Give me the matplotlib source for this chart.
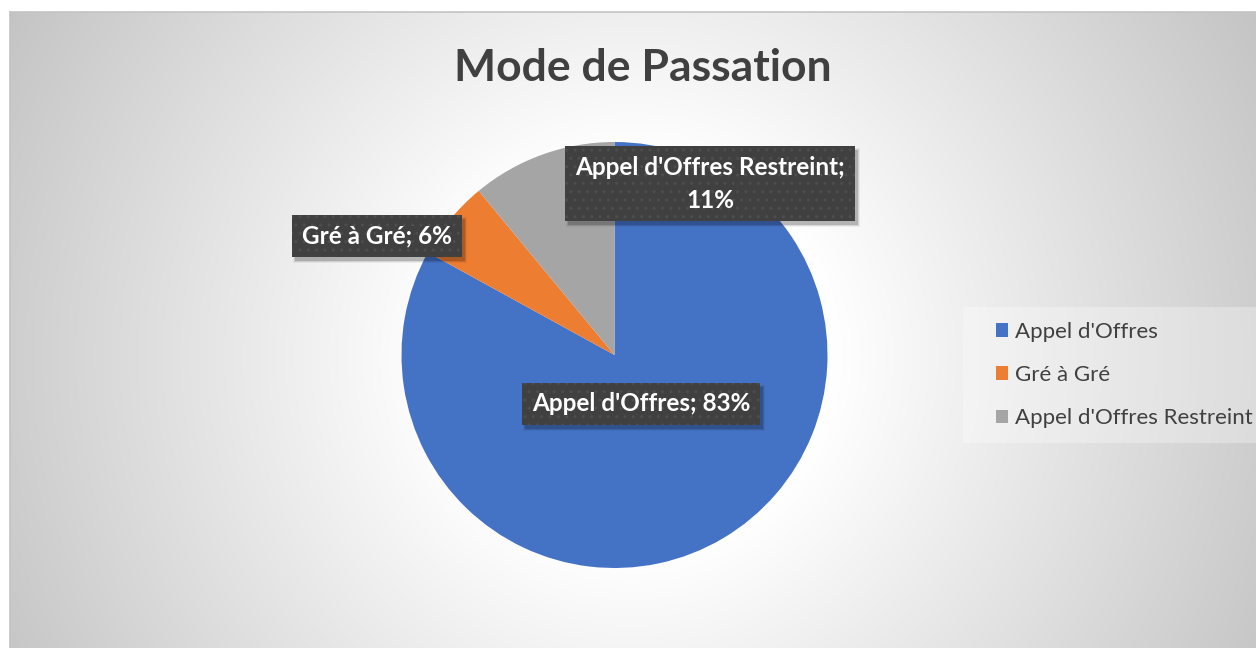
import matplotlib.pyplot as plt
from matplotlib.patches import Patch, Rectangle
from matplotlib.transforms import IdentityTransform
import numpy as np

plt.rcParams['font.family'] = ['Lato', 'DejaVu Sans']
plt.rcParams['hatch.linewidth'] = 1.0

# data
categories = ["Appel d'Offres", "Gré à Gré", "Appel d'Offres Restreint"]
shares = [83, 6, 11]
colors = ['#4472C4', '#ED7D31', '#A5A5A5']

W, H = 1256, 648
fig = plt.figure(figsize=(W / 100, H / 100), dpi=100)

# background: white margin + radial grey gradient chart area
bg = fig.add_axes([0, 0, 1, 1])
yy, xx = np.mgrid[0:H, 0:W]
d = np.hypot(xx - 633, yy - 356)
g = np.clip(255 - 0.115 * (d - 200), 196, 255) / 255.0
g[(xx < 10) | (yy < 12)] = 1.0
img = np.dstack([g, g, g])
bg.imshow(img, extent=(0, W, H, 0), aspect='auto', interpolation='bilinear')
bg.plot([10, W], [12, 12], color='#c3c3c3', lw=1.2)
bg.plot([10, 10], [12, H], color='#c3c3c3', lw=1.2)
# lighter legend panel
bg.add_patch(Rectangle((963, 307), W - 963, 136, facecolor='white', alpha=0.3, lw=0))
bg.set_xlim(0, W)
bg.set_ylim(H, 0)
bg.axis('off')

# title
fig.text(643 / W, 1 - 68 / H, 'Mode de Passation', ha='center', va='center',
         fontsize=32, fontweight='bold', color='#404040')

# pie
R = 213
cx, cy = 614.5, H - 355
side = 2.2 * R
ax = fig.add_axes([(cx - side / 2) / W, (cy - side / 2) / H, side / W, side / H])
wedges, _ = ax.pie(shares, colors=colors, startangle=90, counterclock=False,
                   radius=1, wedgeprops=dict(linewidth=0))
ax.set_xlim(-1.1, 1.1)
ax.set_ylim(-1.1, 1.1)
ax.set_aspect('equal')
ax.axis('off')

# data labels (positions in pie-radius units)
label_pos = [(0.124, -0.230), (-1.115, 0.559), (0.448, 0.803)]
label_txt = [f"{c}; {v}%" for c, v in zip(categories, shares)]
label_txt[2] = f"{categories[2]};\n{shares[2]}%"
labels = []
for (lx, ly), t in zip(label_pos, label_txt):
    labels.append(ax.text(lx, ly, t, ha='center', va='center', fontsize=17.5,
                          fontweight='bold', linespacing=1.5, color='white', zorder=5,
                          bbox=dict(boxstyle='square,pad=0.4', facecolor='#404040',
                                    edgecolor='#4d4d4d', hatch='..', linewidth=0)))

# soft drop shadows behind the label boxes (pixel space)
fig.canvas.draw()
renderer = fig.canvas.get_renderer()
for lab in labels:
    bb = lab.get_bbox_patch().get_window_extent(renderer)
    for k, a in [(0, 0.16), (1, 0.09), (2, 0.05)]:
        ax.add_patch(Rectangle((bb.x0 + 3 - k, bb.y0 - 4 - k),
                               bb.width + 2 * k, bb.height + 2 * k,
                               transform=IdentityTransform(), facecolor='black',
                               alpha=a, linewidth=0, zorder=4, clip_on=False))

# legend
handles = [Patch(facecolor=c, edgecolor='none') for c in colors]
fig.legend(handles, categories, loc='center left',
           bbox_to_anchor=(996 / W, 1 - 375 / H), frameon=False,
           fontsize=16, labelcolor='#404040', handlelength=0.55,
           handleheight=0.55, handletextpad=0.3, labelspacing=1.05,
           borderaxespad=0, borderpad=0)

fig.savefig('out.png', dpi=100)
